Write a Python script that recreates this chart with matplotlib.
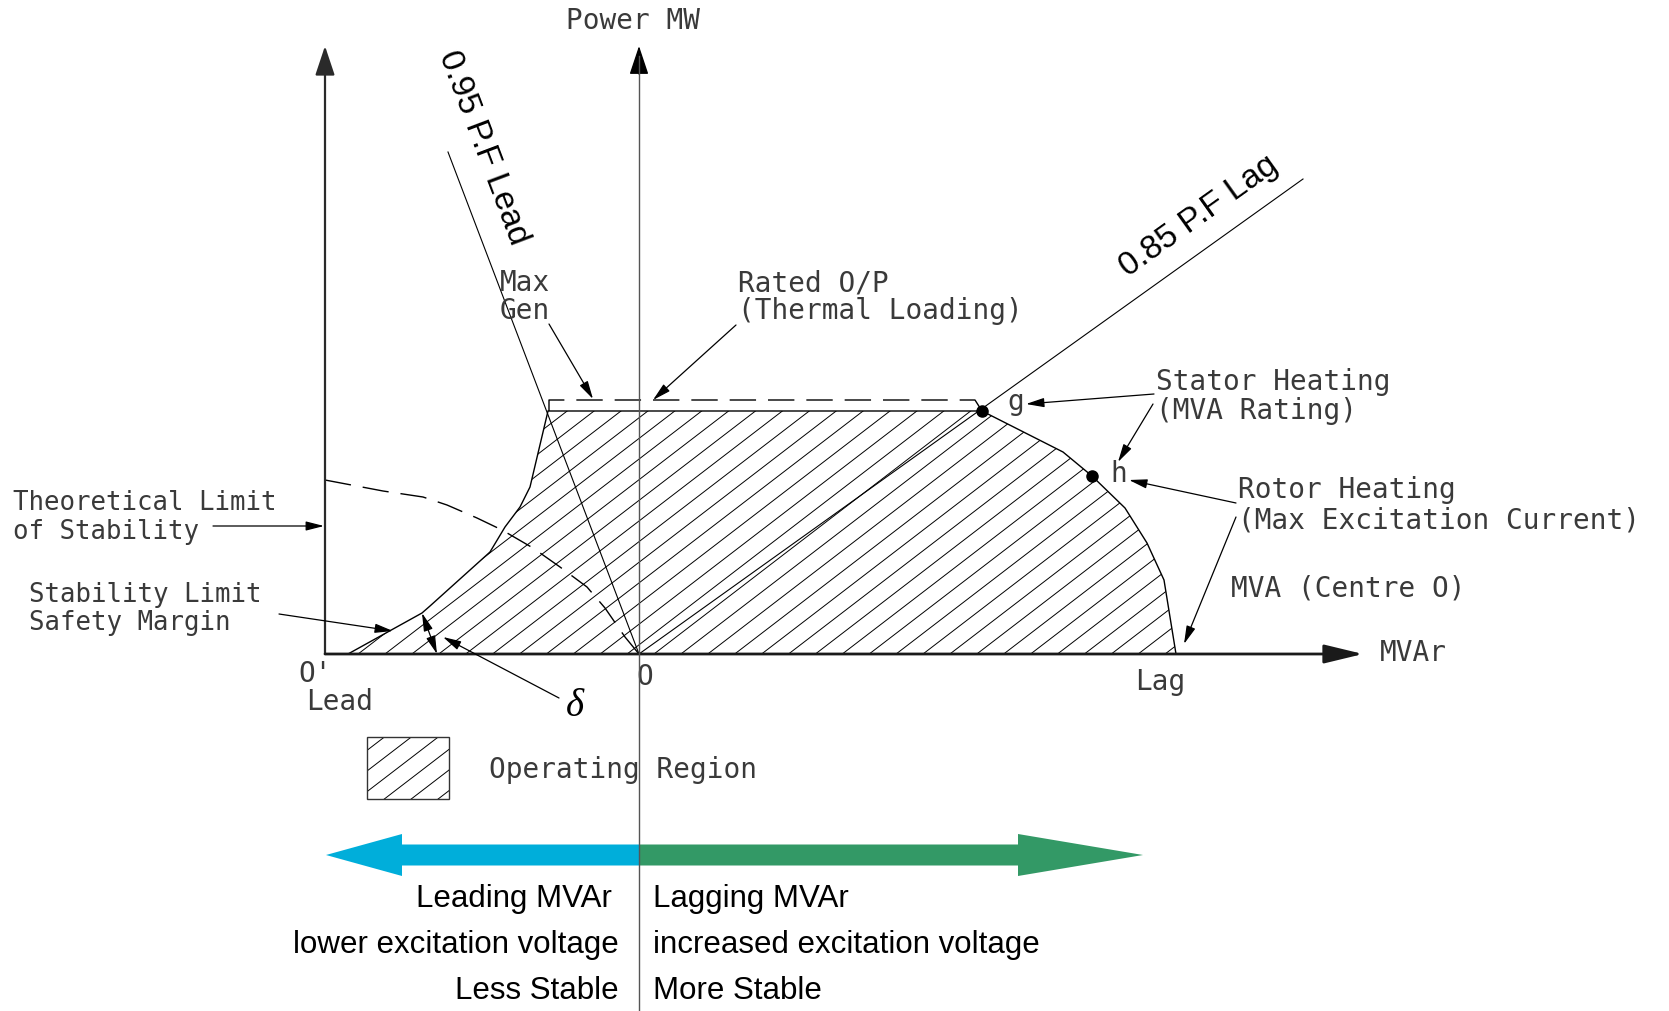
import matplotlib
matplotlib.use("Agg")
import matplotlib.pyplot as plt
from matplotlib.patches import Polygon, FancyArrowPatch, FancyArrow, Rectangle
import numpy as np

# Generator capability diagram, MVAr along x and MW along y, origin at O
# (units are drawing units, roughly one per pixel)

# stability limit with safety margin, from O' side up to the max gen corner
lead_q = [-291, -217, -209, -149, -134, -119, -109, -91]
lead_p = [0, 41, 48, 102, 127, 147, 167, 243]

# stator heating arc from g to h, rotor heating arc from h down to the axis
stator_q = [343, 424, 453]
stator_p = [243, 202, 178]
rotor_q = [453, 486, 508, 525, 537]
rotor_p = [178, 146, 111, 74, 0]

# theoretical limit of stability (dashed)
theory_q = [-314, -256, -216, -192, -162, -137, -106, -79, -52, -34, -14, 0]
theory_p = [174, 163, 157, 149, 136, 124, 106, 87, 67, 46, 17, 0]

# rated output (thermal loading) dashed line
thermal_q = [-90, -90, 336, 343]
thermal_p = [243, 254, 254, 243]

# power factor lines, drawn from O to these ends
pf_lead_end = (-191, 502)
pf_lag_end = (664, 475)

# axes
lead_axis_q = -314      # O'
mw_axis_top = 608
mvar_axis_end = 724
fig_bottom = -357

# leading / lagging arrows below
lead_arrow_end = -313
lag_arrow_end = 504
arrow_level = -201

mono = "DejaVu Sans Mono"
sans = "Liberation Sans"
cad = dict(family=mono, fontsize=20, color="#3a3a3a")

fig = plt.figure(figsize=(16.69, 10.11), dpi=100)
ax = fig.add_axes([0, 0, 1, 1])
ax.set_xlim(-639, 1030)
ax.set_ylim(-357, 654)
ax.axis("off")


def arrow(start, end, hl=11, hw=2.8, lw=0.9, color="black", style="-|>", z=5):
    ax.add_patch(FancyArrowPatch(start, end,
                                 arrowstyle=f"{style},head_length={hl},head_width={hw}",
                                 mutation_scale=1, shrinkA=0, shrinkB=0,
                                 lw=lw, color=color, zorder=z))


def hatch(patch, qmin, qmax, pmin, pmax, angle=37.5, step=26.9, phase=15):
    m = np.tan(np.radians(angle))
    k0 = np.floor((qmin - pmax / m - phase) / step)
    k1 = np.ceil((qmax - pmin / m - phase) / step)
    qs = np.array([qmin - 10, qmax + 10])
    for k in np.arange(k0, k1 + 1):
        x0 = phase + k * step
        ln, = ax.plot(qs, m * (qs - x0), color="black", lw=0.7, zorder=2)
        ln.set_clip_path(patch)


# operating region
region_q = lead_q + stator_q + rotor_q[1:]
region_p = lead_p + stator_p + rotor_p[1:]
region = Polygon(np.column_stack([region_q, region_p]), closed=True,
                 fc="none", ec="black", lw=1.0, zorder=3)
ax.add_patch(region)
hatch(region, min(region_q), max(region_q), 0, max(region_p))

# rated output and theoretical stability limit
ax.plot(thermal_q, thermal_p, color="black", lw=1.0, ls=(0, (19, 8.6)), zorder=3)
ax.plot(theory_q, theory_p, color="black", lw=1.0, ls=(0, (19, 8.6)), zorder=3)

# power factor lines
ax.plot([0, pf_lead_end[0]], [0, pf_lead_end[1]], color="black", lw=0.8, zorder=3)
ax.plot([0, pf_lag_end[0]], [0, pf_lag_end[1]], color="black", lw=0.8, zorder=3)

# g and h
ax.plot([stator_q[0], stator_q[-1]], [stator_p[0], stator_p[-1]], "o",
        color="black", ms=8, zorder=6)

# axes
arrow((lead_axis_q, 0), (lead_axis_q, mw_axis_top), hl=18, hw=6, lw=1.6, color="#2a2a2a")
ax.plot([0, 0], [fig_bottom, mw_axis_top - 10], color="#555555", lw=1.0, zorder=7)
arrow((0, mw_axis_top - 28), (0, mw_axis_top), hl=18, hw=6, lw=1.0)
arrow((lead_axis_q, 0), (mvar_axis_end, 0), hl=24, hw=5.8, lw=2.0, color="#1a1a1a")

# labels
ax.text(-73, 625, "Power MW", **cad)
ax.text(741, -7, "MVAr", **cad)
ax.text(-341, -28, "O'", **cad)
ax.text(-333, -56, "Lead", **cad)
ax.text(-3, -31, "O", **cad)
ax.text(496, -36, "Lag", **cad)
ax.text(368, 244, "g", **cad)
ax.text(471, 172, "h", **cad)

ax.text(-139, 363, "Max", **cad)
ax.text(-139, 335, "Gen", **cad)
arrow((-90, 330), (-46, 255))

ax.text(99, 363, "Rated O/P", **cad)
ax.text(99, 335, "(Thermal Loading)", **cad)
arrow((97, 329), (14, 254))

ax.text(517, 264, "Stator Heating", **cad)
ax.text(517, 235, "(MVA Rating)", **cad)
arrow((515, 260), (387, 250))
arrow((514, 250), (479, 192))

ax.text(599, 156, "Rotor Heating", **cad)
ax.text(599, 126, "(Max Excitation Current)", **cad)
arrow((597, 151), (490, 174))
arrow((597, 137), (545, 10))

ax.text(592, 57, "MVA (Centre O)", **cad)

narrow = dict(cad, fontsize=18.5)
ax.text(-626, 144, "Theoretical Limit", **narrow)
ax.text(-626, 115, "of Stability", **narrow)
arrow((-426, 128), (-315, 128))

ax.text(-610, 52, "Stability Limit", **narrow)
ax.text(-610, 24, "Safety Margin", **narrow)
arrow((-360, 40), (-246, 23))

# safety margin angle
arrow((lead_q[1], lead_p[1]), (-202, 0), style="<|-|>")
arrow((-80, -44), (-196, 17))
ax.text(-64, -52, "δ", family="Liberation Serif", style="italic", fontsize=28,
        ha="center", va="center", color="black")

# power factor labels
ax.text(-156, 506, "0.95 P.F Lead", family=sans, fontsize=24, rotation=-69.3,
        rotation_mode="anchor", ha="center", va="center")
ax.text(560, 438, "0.85 P.F Lag", family=sans, fontsize=24, rotation=35.5,
        rotation_mode="anchor", ha="center", va="center")

# legend
legend_box = Rectangle((-272, -145), 82, 62, fc="none", ec="#333333", lw=1.0, zorder=3)
ax.add_patch(legend_box)
hatch(legend_box, -272, -190, -145, -83)
ax.text(-150, -124, "Operating Region", **cad)

# leading / lagging arrows
ax.add_patch(FancyArrow(0, arrow_level, lead_arrow_end, 0, width=21, head_width=42,
                        head_length=76, length_includes_head=True,
                        color="#00AEDA", lw=0, zorder=4))
ax.add_patch(FancyArrow(0, arrow_level, lag_arrow_end, 0, width=21, head_width=42,
                        head_length=125, length_includes_head=True,
                        color="#339966", lw=0, zorder=4))

left_lines = ["Leading MVAr", "lower excitation voltage", "Less Stable"]
right_lines = ["Lagging MVAr", "increased excitation voltage", "More Stable"]
left_x = [-27, -20, -20]
rows = [-253, -299, -345]
for txt, x, y in zip(left_lines, left_x, rows):
    ax.text(x, y, txt, family=sans, fontsize=22.5, ha="right", color="black")
for txt, y in zip(right_lines, rows):
    ax.text(14, y, txt, family=sans, fontsize=22.5, ha="left", color="black")

fig.savefig("out.png", dpi=100, facecolor="white")
